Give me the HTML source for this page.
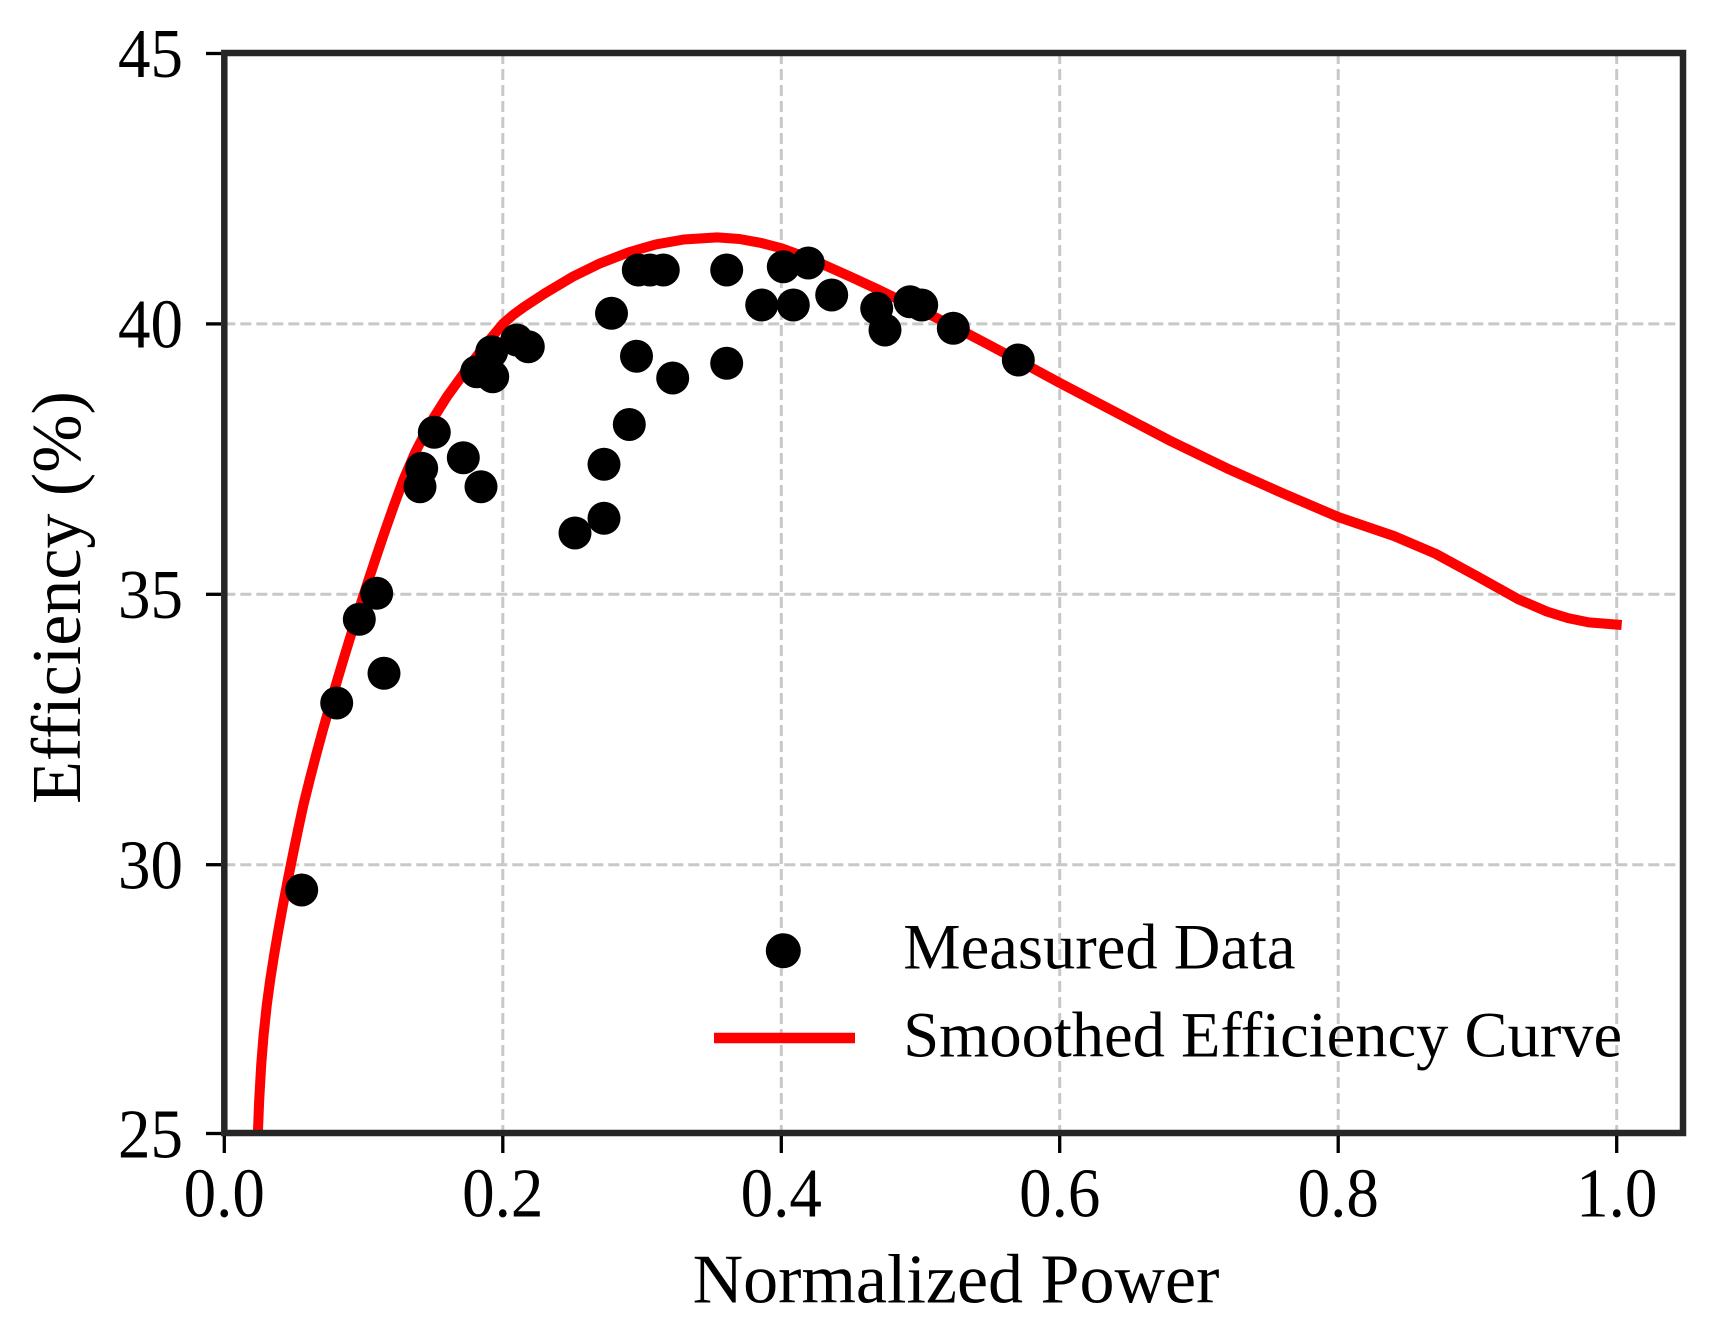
<!DOCTYPE html>
<html>
<head>
<meta charset="utf-8">
<style>
  html, body { margin: 0; padding: 0; background: #ffffff; }
  body { width: 1717px; height: 1328px; overflow: hidden; }
  svg { display: block; }
  text { font-family: "Liberation Serif", "Times New Roman", serif; fill: #000; }
</style>
</head>
<body>
<svg width="1717" height="1328" viewBox="0 0 1717 1328" xmlns="http://www.w3.org/2000/svg">
  <rect x="0" y="0" width="1717" height="1328" fill="#ffffff"/>
  <defs>
    <clipPath id="plotclip">
      <rect x="224.3" y="53" width="1458.7" height="1080"/>
    </clipPath>
  </defs>

  <!-- grid -->
  <g stroke="#c8c8c8" stroke-width="3" stroke-dasharray="11 5" fill="none">
    <line x1="502.8" y1="53" x2="502.8" y2="1133"/>
    <line x1="781.3" y1="53" x2="781.3" y2="1133"/>
    <line x1="1059.7" y1="53" x2="1059.7" y2="1133"/>
    <line x1="1338.2" y1="53" x2="1338.2" y2="1133"/>
    <line x1="1616.7" y1="53" x2="1616.7" y2="1133"/>
    <line x1="224.3" y1="323.9" x2="1683" y2="323.9"/>
    <line x1="224.3" y1="594.3" x2="1683" y2="594.3"/>
    <line x1="224.3" y1="864.7" x2="1683" y2="864.7"/>
  </g>

  <!-- smoothed curve -->
  <g clip-path="url(#plotclip)">
    <polyline fill="none" stroke="#ff0000" stroke-width="10" stroke-linejoin="round" stroke-linecap="square"
      points="257.0,1162 257.8,1135 259.2,1100 261.2,1065 263.6,1035 266.8,1005 270.2,980 274.1,955 278.4,930 283.0,905 287.8,880 292.8,855 298.0,830 303.4,805 309.6,780 316.1,755 322.9,730 330.0,705 337.3,680 344.8,655 352.5,630 360.4,605 368.5,580 376.8,555 385.3,530 394.1,505 403.3,480 415.1,452.6 430.4,422.9 447.1,396.4 465.2,371.5 484.5,346 502.8,323.9 513.0,315.0 523.7,307.2 544.5,293.6 572.4,276.9 600.2,263.3 628.1,252.5 655.9,244.4 683.8,239.5 717.2,237.4 739.5,239.0 760.4,242.8 781.3,248.2 802.1,255.8 823.0,264.4 850.9,276.9 878.7,289.8 906.6,303.4 934.4,316.9 962.3,330.9 990.1,345.5 1024.9,364.0 1059.7,382.9 1115.4,412.1 1171.1,441.3 1226.8,468.3 1282.5,493.2 1338.2,517.0 1393.9,536.0 1435.7,553.8 1477.5,576.5 1519.2,599.7 1547.1,611.6 1568.0,618.1 1588.8,622.4 1616.7,624.6"/>
  </g>

  <!-- measured data -->
  <g fill="#000000">
    <circle cx="301.7" cy="890" r="16.5"/>
    <circle cx="336.7" cy="703" r="16.5"/>
    <circle cx="359.3" cy="619.3" r="16.5"/>
    <circle cx="376.7" cy="593.3" r="16.5"/>
    <circle cx="384" cy="673.3" r="16.5"/>
    <circle cx="420" cy="486.7" r="16.5"/>
    <circle cx="421.7" cy="468.3" r="16.5"/>
    <circle cx="434.3" cy="432.3" r="16.5"/>
    <circle cx="463.3" cy="457.7" r="16.5"/>
    <circle cx="481" cy="486.7" r="16.5"/>
    <circle cx="476.7" cy="371.7" r="16.5"/>
    <circle cx="492.7" cy="376.7" r="16.5"/>
    <circle cx="491.7" cy="351.7" r="16.5"/>
    <circle cx="516.7" cy="340" r="16.5"/>
    <circle cx="528.3" cy="346.7" r="16.5"/>
    <circle cx="575" cy="533" r="16.5"/>
    <circle cx="604" cy="518.3" r="16.5"/>
    <circle cx="604" cy="464.3" r="16.5"/>
    <circle cx="629.3" cy="424.5" r="16.5"/>
    <circle cx="611.5" cy="313.3" r="16.5"/>
    <circle cx="636.5" cy="356.2" r="16.5"/>
    <circle cx="672.7" cy="378" r="16.5"/>
    <circle cx="638.3" cy="270" r="16.5"/>
    <circle cx="650" cy="270" r="16.5"/>
    <circle cx="663.3" cy="270" r="16.5"/>
    <circle cx="726.7" cy="270" r="16.5"/>
    <circle cx="726.7" cy="363.3" r="16.5"/>
    <circle cx="761.7" cy="305" r="16.5"/>
    <circle cx="793.3" cy="305" r="16.5"/>
    <circle cx="783.3" cy="266.7" r="16.5"/>
    <circle cx="808.3" cy="263" r="16.5"/>
    <circle cx="831.7" cy="295" r="16.5"/>
    <circle cx="876.7" cy="308.3" r="16.5"/>
    <circle cx="885" cy="330" r="16.5"/>
    <circle cx="910" cy="301.7" r="16.5"/>
    <circle cx="921.7" cy="305" r="16.5"/>
    <circle cx="953.3" cy="328.3" r="16.5"/>
    <circle cx="1018.3" cy="360" r="16.5"/>
  </g>

  <!-- spines -->
  <rect x="224.3" y="53" width="1458.7" height="1080" fill="none" stroke="#262626" stroke-width="6.5"/>

  <!-- ticks -->
  <g stroke="#000" stroke-width="3.3">
    <line x1="206" y1="53.5" x2="221" y2="53.5"/>
    <line x1="206" y1="323.9" x2="221" y2="323.9"/>
    <line x1="206" y1="594.3" x2="221" y2="594.3"/>
    <line x1="206" y1="864.7" x2="221" y2="864.7"/>
    <line x1="206" y1="1133.5" x2="221" y2="1133.5"/>
    <line x1="224.3" y1="1136" x2="224.3" y2="1153"/>
    <line x1="502.8" y1="1136" x2="502.8" y2="1153"/>
    <line x1="781.3" y1="1136" x2="781.3" y2="1153"/>
    <line x1="1059.7" y1="1136" x2="1059.7" y2="1153"/>
    <line x1="1338.2" y1="1136" x2="1338.2" y2="1153"/>
    <line x1="1616.7" y1="1136" x2="1616.7" y2="1153"/>
  </g>

  <!-- y tick labels -->
  <g font-size="65" text-anchor="end">
    <text transform="translate(183,77.2) scale(1,1.07)">45</text>
    <text transform="translate(183,347.6) scale(1,1.07)">40</text>
    <text transform="translate(183,618) scale(1,1.07)">35</text>
    <text transform="translate(183,888.4) scale(1,1.07)">30</text>
    <text transform="translate(183,1157.5) scale(1,1.07)">25</text>
  </g>

  <!-- x tick labels -->
  <g font-size="65" text-anchor="middle">
    <text transform="translate(224.3,1216.5) scale(1,1.07)">0.0</text>
    <text transform="translate(502.8,1216.5) scale(1,1.07)">0.2</text>
    <text transform="translate(781.3,1216.5) scale(1,1.07)">0.4</text>
    <text transform="translate(1059.7,1216.5) scale(1,1.07)">0.6</text>
    <text transform="translate(1338.2,1216.5) scale(1,1.07)">0.8</text>
    <text transform="translate(1616.7,1216.5) scale(1,1.07)">1.0</text>
  </g>

  <!-- axis labels -->
  <text x="956" y="1302.5" font-size="70" text-anchor="middle">Normalized Power</text>
  <text transform="translate(80,597.5) rotate(-90)" font-size="70" text-anchor="middle">Efficiency (%)</text>

  <!-- legend -->
  <circle cx="783.3" cy="950.7" r="17.5" fill="#000"/>
  <line x1="714" y1="1038" x2="855" y2="1038" stroke="#ff0000" stroke-width="10.5"/>
  <text x="903.3" y="968.3" font-size="64.5">Measured Data</text>
  <text x="903.3" y="1056.7" font-size="64.5">Smoothed Efficiency Curve</text>
</svg>
</body>
</html>
